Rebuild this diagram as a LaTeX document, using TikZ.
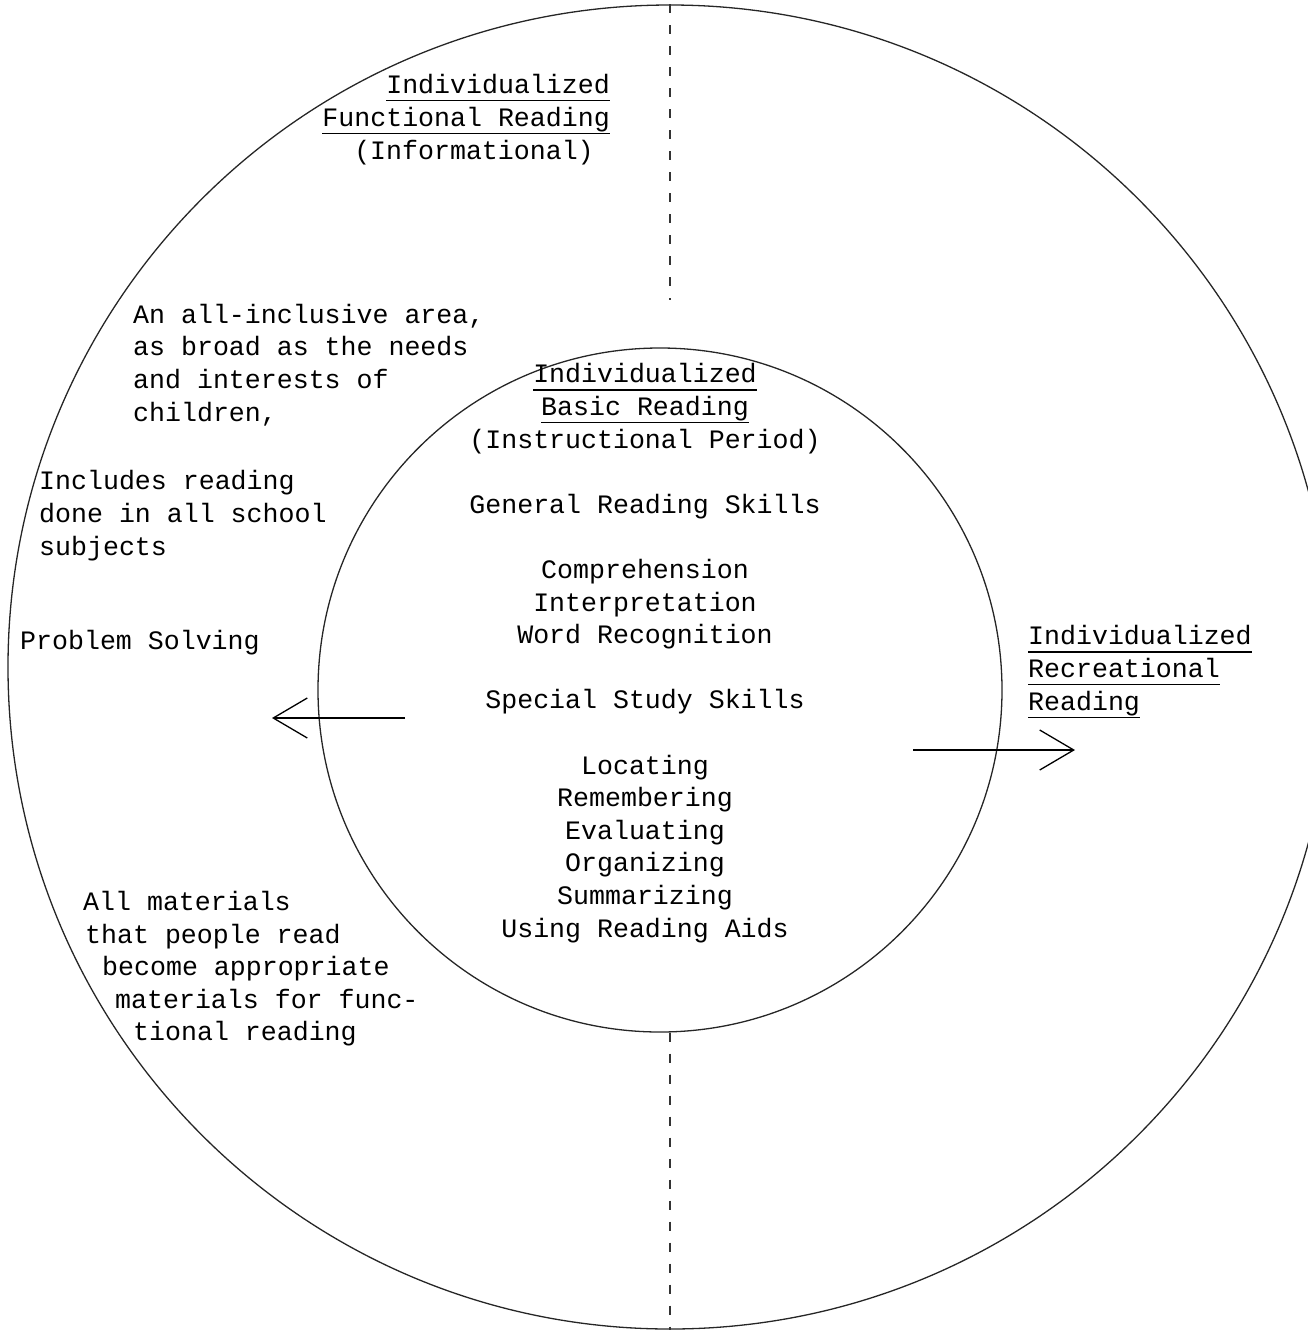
\documentclass[tikz,border=0pt]{standalone}
\usepackage{fontspec}
\setmonofont{Liberation Mono}
\usetikzlibrary{arrows.meta,positioning}
\newcommand{\undl}[1]{\setbox0=\hbox{#1}\rlap{\rule[-8pt]{\wd0}{1.4pt}}\box0}

\begin{document}
\begin{tikzpicture}[x=1pt,y=-1pt,
  txt/.style={font=\ttfamily\fontsize{26.6}{32.6}\selectfont,inner sep=0pt},
  ring/.style={circle,draw=black!85,line width=1.3pt,inner sep=0pt},
  divider/.style={draw=black!80,line width=1.4pt,dash pattern=on 9pt off 12pt},
  arrow/.style={-{Straight Barb[length=34pt,width=40pt,line width=1.3pt]},line width=1.8pt}]
  \useasboundingbox (0,0) rectangle (1308,1331);
  % the two areas
  \node[ring,minimum size=1324pt] (outer) at (670,667) {};
  \node[ring,minimum size=684pt] (inner) at (660,690) {};
  \coordinate (divend) at (670,300);
  \draw[divider] (outer.north) -- (divend);
  \draw[divider] (inner.south -| outer.south) -- (outer.south);
  % arrows out of the inner area
  \coordinate (lfrom) at (405,718);
  \coordinate (lto) at (272,718);
  \coordinate (rfrom) at (913,750);
  \coordinate (rto) at (1075,750);
  \draw[arrow] (lfrom) -- (lto);
  \draw[arrow] (rfrom) -- (rto);
  % functional reading (base = last line)
  \node[txt,anchor=base east,align=right] (func) at (610,126) {\undl{Individualized}\\\undl{Functional Reading}};
  \node[txt,anchor=base] (info) at (474,159) {(Informational)};
  \node[txt,anchor=base west,align=left] (area) at (133,421) {An all-inclusive area,\\as broad as the needs\\and interests of\\children,};
  \node[txt,anchor=base west,align=left] (incl) at (39,555) {Includes reading\\done in all school\\subjects};
  \node[txt,anchor=base west] (solve) at (20,649) {Problem Solving};
  \node[txt,anchor=base west] (mat1) at (83,910) {All materials};
  \node[txt,anchor=base west] (mat2) at (85,943) {that people read};
  \node[txt,anchor=base west] (mat3) at (102,975) {become appropriate};
  \node[txt,anchor=base west] (mat4) at (115,1008) {materials for func-};
  \node[txt,anchor=base west] (mat5) at (133,1040) {tional reading};
  % basic reading
  \node[txt,anchor=base,align=center] (basic) at (645,937) {\undl{Individualized}\\\undl{Basic Reading}\\(Instructional Period)\\[32.6pt]
    General Reading Skills\\[32.6pt]
    Comprehension\\Interpretation\\Word Recognition\\[32.6pt]
    Special Study Skills\\[32.6pt]
    Locating\\Remembering\\Evaluating\\Organizing\\Summarizing\\Using Reading Aids};
  % recreational reading
  \node[txt,anchor=base west,align=left] (recr) at (1028,710) {\undl{Individualized}\\\undl{Recreational}\\\undl{Reading}};
\end{tikzpicture}
\end{document}
